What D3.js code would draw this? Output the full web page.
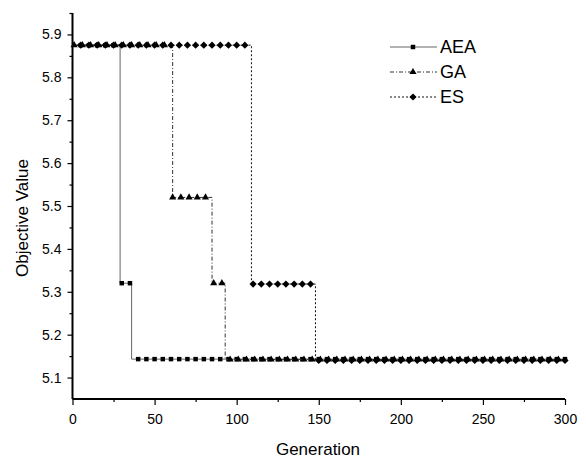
<!DOCTYPE html>
<html>
<head>
<meta charset="utf-8">
<script src="https://cdn.jsdelivr.net/npm/d3@7"></script>
<style>
  body { margin: 0; background: #fff; }
  text { font-family: "Liberation Sans", Arial, sans-serif; fill: #000; }
</style>
</head>
<body>
<div id="chart"></div>
<script>
// step data: generation where each level starts, and the level
var aeaGen = [0, 29, 36, 300];
var aeaVal = [5.875, 5.32, 5.143, 5.143];
var gaGen = [0, 61, 85, 93, 300];
var gaVal = [5.875, 5.52, 5.32, 5.142, 5.142];
var esGen = [0, 109, 148, 300];
var esVal = [5.875, 5.318, 5.14, 5.14];

var xTicks = [0, 50, 100, 150, 200, 250, 300];
var yTicks = [5.1, 5.2, 5.3, 5.4, 5.5, 5.6, 5.7, 5.8, 5.9];

var svgWidth = 586, svgHeight = 460;

var svg = d3.select("#chart").append("svg")
  .attr("width", svgWidth)
  .attr("height", svgHeight);

var x = d3.scaleLinear().domain([0, 300]).range([72.5, 565]);
var y = d3.scaleLinear().domain([5.05, 5.95]).range([399, 13]);

// zip gens + values into points
function toPoints(gens, vals) {
  return gens.map(function(g, i) { return { g: g, v: vals[i] }; });
}
// value of a step series at generation g
function stepAt(gens, vals, g) {
  var v = vals[0];
  for (var i = 0; i < gens.length; i++) {
    if (gens[i] <= g) v = vals[i];
  }
  return v;
}

var series = [
  { name: "AEA", gens: aeaGen, vals: aeaVal, first: 5, shape: "square", stroke: "#666", dash: null },
  { name: "GA", gens: gaGen, vals: gaVal, first: 1, shape: "triangle", stroke: "#333", dash: "4,2,1,2" },
  { name: "ES", gens: esGen, vals: esVal, first: 5, shape: "diamond", stroke: "#111", dash: "2,2" }
];

function markerPath(shape) {
  if (shape === "square") return d3.symbol(d3.symbolSquare, 20)();
  if (shape === "triangle") return d3.symbol(d3.symbolTriangle, 22)();
  return d3.symbol(d3.symbolSquare, 26)();
}

var line = d3.line()
  .x(function(d) { return x(d.g); })
  .y(function(d) { return y(d.v); })
  .curve(d3.curveStepAfter);

series.forEach(function(s) {
  svg.append("path")
    .datum(toPoints(s.gens, s.vals))
    .attr("d", line)
    .attr("fill", "none")
    .attr("stroke", s.stroke)
    .attr("stroke-width", 1)
    .attr("stroke-dasharray", s.dash);

  // markers every 5th generation, like the original plot's skip points
  var markGens = d3.range(s.first, 301, 5);
  svg.append("g").selectAll("path")
    .data(markGens)
    .enter()
    .append("path")
    .attr("d", markerPath(s.shape))
    .attr("transform", function(g) {
      var t = "translate(" + x(g) + "," + y(stepAt(s.gens, s.vals, g)) + ")";
      return s.shape === "diamond" ? t + " rotate(45)" : t;
    })
    .attr("fill", "#000");
});

// axes
var xAxis = svg.append("g")
  .attr("transform", "translate(0,399)")
  .call(d3.axisBottom(x).tickValues(xTicks).tickSize(6).tickPadding(9).tickFormat(d3.format("d")));
svg.append("g")
  .attr("transform", "translate(0,399)")
  .call(d3.axisBottom(x).tickValues([25, 75, 125, 175, 225, 275]).tickSize(3).tickFormat(""))
  .select(".domain").remove();

var yAxis = svg.append("g")
  .attr("transform", "translate(72.5,0)")
  .call(d3.axisLeft(y).tickValues(yTicks).tickSize(5).tickPadding(6).tickFormat(d3.format(".1f")));
svg.append("g")
  .attr("transform", "translate(72.5,0)")
  .call(d3.axisLeft(y).tickValues([5.15, 5.25, 5.35, 5.45, 5.55, 5.65, 5.75, 5.85, 5.95]).tickSize(3).tickFormat(""))
  .select(".domain").remove();

svg.selectAll(".domain").attr("stroke", "#000").attr("stroke-width", 2);
svg.selectAll(".tick line").attr("stroke", "#000").attr("stroke-width", 1.2);
svg.selectAll(".tick text").style("font-size", "14px").attr("fill", "#000");
xAxis.selectAll(".domain").attr("d", "M72.5,0H565");
yAxis.selectAll(".domain").attr("d", "M0,399V13");

// axis titles
svg.append("text")
  .attr("x", 318)
  .attr("y", 455)
  .attr("text-anchor", "middle")
  .style("font-size", "17px")
  .text("Generation");

svg.append("text")
  .attr("transform", "translate(28,218) rotate(-90)")
  .attr("text-anchor", "middle")
  .style("font-size", "17px")
  .text("Objective Value");

// legend
var legend = svg.append("g").attr("transform", "translate(390,47)");
series.forEach(function(s, i) {
  var row = legend.append("g").attr("transform", "translate(0," + (i * 25) + ")");
  row.append("line")
    .attr("x1", 0).attr("x2", 47)
    .attr("stroke", s.stroke)
    .attr("stroke-width", 1)
    .attr("stroke-dasharray", s.dash);
  row.append("path")
    .attr("d", markerPath(s.shape))
    .attr("transform", s.shape === "diamond" ? "translate(23,0) rotate(45)" : "translate(23,0)");
  row.append("text")
    .attr("x", 50)
    .attr("dy", "0.36em")
    .style("font-size", "18px")
    .text(s.name);
});
</script>
</body>
</html>
